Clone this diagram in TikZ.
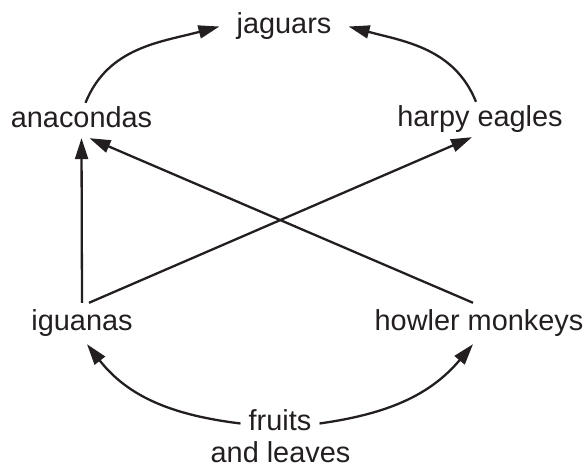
\documentclass[tikz,border=0pt]{standalone}
\usepackage{fontspec}
\setmainfont{Liberation Sans}
\usetikzlibrary{arrows.meta, calc}
\definecolor{ink}{HTML}{231F20}

\begin{document}
\begin{tikzpicture}[x=1bp, y=1bp, >={Triangle[length=21bp, width=13bp]},
    animal/.style={anchor=base, text=ink, font=\fontsize{29}{32}\selectfont,
        text height=21bp, text depth=6bp, inner xsep=8bp, inner ysep=6bp},
    link/.style={->, draw=ink, line width=2.3bp}]
    \useasboundingbox (0,0) rectangle (588,469);

    % Top predator
    \node[animal, inner xsep=17bp] (jaguars) at (284,435) {jaguars};

    % Middle level
    \node[animal, inner ysep=4bp] (anacondas) at (81.5,341) {anacondas};
    \node[animal, inner ysep=4bp] (harpy) at (480,342) {harpy eagles};

    % Herbivores
    \node[animal, inner ysep=7bp] (iguanas) at (82,138) {iguanas};
    \node[animal, inner ysep=7bp] (howler) at (479,138) {howler monkeys};

    % Producers
    \node[animal] (fruits) at (280,38) {fruits};
    \node[animal] (leaves) at (280.5,6) {and leaves};

    % Curved links to the jaguars
    \draw[link] ([xshift=4bp]anacondas.north) to[out=68, in=195] (jaguars.west);
    \draw[link] ([xshift=-4bp]harpy.north) to[out=112, in=-15] (jaguars.east);

    % Straight links
    \draw[link] (iguanas.north) -- (anacondas.south);
    \draw[link] ([xshift=7bp]iguanas.north) -- ([xshift=-8bp]harpy.south);
    \draw[link] ([xshift=-6bp]howler.north) -- ([xshift=8bp]anacondas.south);

    % Curved links from the plants
    \draw[link] (fruits.west) to[out=173, in=-52] ([xshift=5bp]iguanas.south);
    \draw[link] (fruits.east) to[out=8, in=-130] ([xshift=-6bp]howler.south);
\end{tikzpicture}
\end{document}
